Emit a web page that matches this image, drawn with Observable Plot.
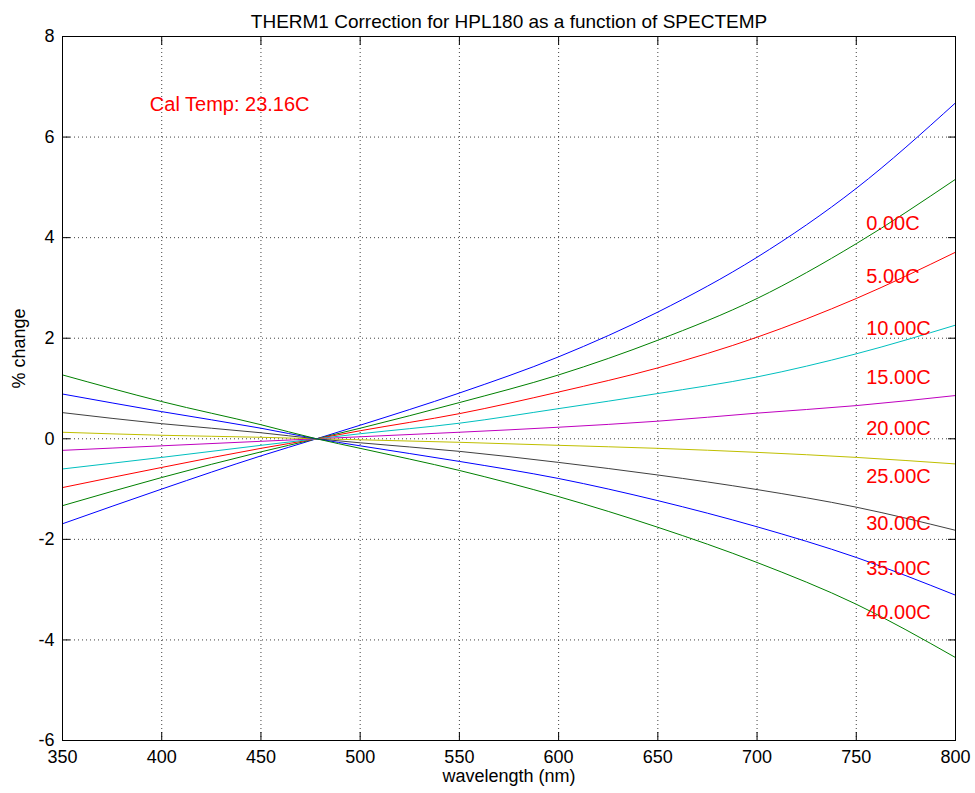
<!DOCTYPE html>
<html><head><meta charset="utf-8">
<script src="https://cdn.jsdelivr.net/npm/d3@7"></script>
<script src="https://cdn.jsdelivr.net/npm/@observablehq/plot@0.6"></script>
<style>body{margin:0;background:#fff;} svg{display:block}</style>
</head><body><div id="chart"></div>
<script>
const title = "THERM1 Correction for HPL180 as a function of SPECTEMP";
const xLabel = "wavelength (nm)";
const yLabel = "% change";
const calTempText = "Cal Temp: 23.16C";
const calTempX = 394;
const calTempY = 6.65;

const wavelengths = [350, 400, 450, 478, 500, 550, 600, 650, 700, 750, 800];
const temps = ["0.00C", "5.00C", "10.00C", "15.00C", "20.00C", "25.00C", "30.00C", "35.00C", "40.00C"];
const t00 = [-1.69, -1.00, -0.34, 0, 0.27, 0.91, 1.63, 2.52, 3.61, 4.98, 6.68];
const t05 = [-1.33, -0.77, -0.26, 0, 0.21, 0.72, 1.27, 1.96, 2.79, 3.88, 5.16];
const t10 = [-0.97, -0.57, -0.19, 0, 0.16, 0.50, 0.93, 1.41, 2.02, 2.79, 3.71];
const t15 = [-0.60, -0.37, -0.13, 0, 0.10, 0.31, 0.60, 0.90, 1.23, 1.69, 2.26];
const t20 = [-0.23, -0.14, -0.05, 0, 0.04, 0.13, 0.23, 0.35, 0.51, 0.66, 0.86];
const t25 = [0.13, 0.07, 0.03, 0, -0.02, -0.07, -0.13, -0.19, -0.27, -0.37, -0.50];
const t30 = [0.52, 0.30, 0.12, 0, -0.08, -0.25, -0.47, -0.72, -1.01, -1.36, -1.82];
const t35 = [0.89, 0.54, 0.21, 0, -0.14, -0.45, -0.79, -1.23, -1.75, -2.36, -3.11];
const t40 = [1.27, 0.74, 0.28, 0, -0.19, -0.63, -1.15, -1.76, -2.46, -3.29, -4.35];
const seriesValues = [t00, t05, t10, t15, t20, t25, t30, t35, t40];
const seriesColors = ["#0000ff", "#008000", "#ff0000", "#00bfbf", "#bf00bf", "#bfbf00", "#404040", "#0000ff", "#008000"];

const labelX = 755;
const labelY = [4.28, 3.22, 2.19, 1.22, 0.20, -0.76, -1.69, -2.59, -3.45];

const xTicks = [350, 400, 450, 500, 550, 600, 650, 700, 750, 800];
const yTicks = [-6, -4, -2, 0, 2, 4, 6, 8];
const yTickLabels = ["-6", "-4", "-2", "0", "2", "4", "6", "8"];

const rows = temps.flatMap((t, i) => wavelengths.map((w, j) => ({temp: t, color: seriesColors[i], x: w, y: seriesValues[i][j]})));
const labels = temps.map((t, i) => ({text: t, x: labelX, y: labelY[i]}));

const font = "'Liberation Sans', Arial, Helvetica, sans-serif";
const gridStyle = {stroke: "#000", strokeOpacity: 0.75, strokeDasharray: "1,3"};

const chart = Plot.plot({
  width: 975, height: 793,
  marginLeft: 62, marginRight: 20, marginTop: 36, marginBottom: 53,
  style: {fontFamily: font, fontSize: "18px", background: "white", color: "black"},
  x: {domain: [350, 800]},
  y: {domain: [-6, 8]},
  marks: [
    Plot.gridX(xTicks.slice(1, -1), gridStyle),
    Plot.gridY(yTicks.slice(1, -1), gridStyle),
    Plot.line(rows, {x: "x", y: "y", z: "temp", stroke: "color", strokeWidth: 1, curve: "monotone-x"}),
    Plot.frame({stroke: "black", strokeWidth: 1}),
    Plot.axisX(xTicks, {anchor: "bottom", tickSize: 0, tickPadding: 10, fontSize: 18, label: null}),
    Plot.axisY(yTicks, {anchor: "left", tickSize: 0, tickPadding: 8, fontSize: 18, label: null, tickFormat: d => yTickLabels[yTicks.indexOf(d)]}),
    Plot.axisX(xTicks, {anchor: "bottom", tickSize: -8, tickFormat: () => "", label: null}),
    Plot.axisX(xTicks, {anchor: "top", tickSize: -8, tickFormat: () => "", label: null}),
    Plot.axisY(yTicks, {anchor: "left", tickSize: -8, tickFormat: () => "", label: null}),
    Plot.axisY(yTicks, {anchor: "right", tickSize: -8, tickFormat: () => "", label: null}),
    Plot.text(labels, {x: "x", y: "y", text: "text", fill: "#ff0000", textAnchor: "start", fontSize: 20}),
    Plot.text([calTempText], {x: calTempX, y: calTempY, fill: "#ff0000", textAnchor: "start", fontSize: 20}),
    Plot.text([title], {frameAnchor: "top", dy: -22, fontSize: 19}),
    Plot.text([xLabel], {frameAnchor: "bottom", dy: 41, fontSize: 18}),
    Plot.text([yLabel], {frameAnchor: "left", dx: -43, rotate: -90, fontSize: 18})
  ]
});
document.getElementById("chart").appendChild(chart);
</script>
</body></html>
